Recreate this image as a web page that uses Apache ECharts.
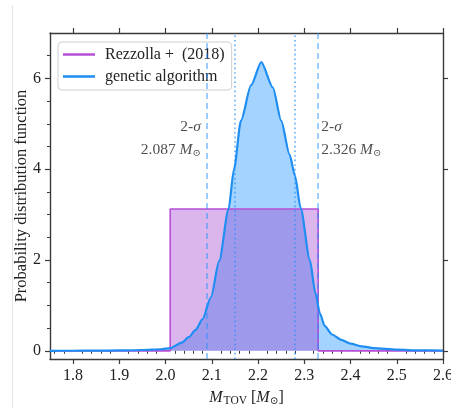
<!DOCTYPE html>
<html>
<head>
<meta charset="utf-8">
<script src="https://cdn.jsdelivr.net/npm/echarts@6/dist/echarts.min.js"></script>
<style>
  html, body { margin: 0; padding: 0; background: #fff; }
  #chart { width: 451px; height: 408px; }
</style>
</head>
<body>
<div id="chart"></div>
<script>
// Genetic-algorithm posterior for the maximum TOV mass
const gaMass = [1.75, 1.80, 1.85, 1.90, 1.95, 1.99, 2.01, 2.035, 2.05, 2.065, 2.08, 2.098, 2.116, 2.136, 2.148, 2.163, 2.185, 2.207, 2.232, 2.250, 2.268, 2.280, 2.292, 2.312, 2.324, 2.334, 2.344, 2.36, 2.38, 2.40, 2.424, 2.45, 2.50, 2.55, 2.60];
const gaPdf  = [0.0, 0.002, 0.004, 0.008, 0.018, 0.035, 0.06, 0.18, 0.3, 0.46, 0.7, 1.18, 1.98, 3.11, 4.0, 5.07, 5.85, 6.36, 5.80, 5.07, 4.33, 3.85, 3.15, 2.0, 1.27, 0.82, 0.55, 0.36, 0.24, 0.16, 0.1, 0.06, 0.025, 0.01, 0.004];

// Rezzolla et al. (2018): uniform bound on M_TOV
const rezMass = [1.75, 2.01, 2.01, 2.33, 2.33, 2.60];
const rezPdf  = [0.0, 0.0, 3.125, 3.125, 0.0, 0.0];

// Credible-interval bounds
const twoSigma = [2.087, 2.326];
const oneSigma = [2.152, 2.277];
const sigmaLabelY = 4.67;

// Tick positions
const xMajor = [1.8, 1.9, 2.0, 2.1, 2.2, 2.3, 2.4, 2.5, 2.6];
const xMinor = [1.76, 1.78, 1.82, 1.84, 1.86, 1.88, 1.92, 1.94, 1.96, 1.98, 2.02, 2.04, 2.06, 2.08, 2.12, 2.14, 2.16, 2.18, 2.22, 2.24, 2.26, 2.28, 2.32, 2.34, 2.36, 2.38, 2.42, 2.44, 2.46, 2.48, 2.52, 2.54, 2.56, 2.58];
const yMajor = [0, 2, 4, 6];
const yMinor = [0.5, 1, 1.5, 2.5, 3, 3.5, 4.5, 5, 5.5, 6.5];

const SERIF = '"Liberation Serif", "DejaVu Serif", serif';
const AX = '#3a3a3a';
const TXT = '#222';
const X_MIN = 1.75, X_MAX = 2.6, Y_MIN = -0.18, Y_MAX = 7.0;

const zip = (a, b) => a.map((v, i) => [v, b[i]]);

function xAxisDef(extra) {
  return Object.assign({
    type: 'value', min: X_MIN, max: X_MAX, gridIndex: 0,
    splitLine: { show: false },
    axisLine: { show: false },
    axisLabel: { show: false },
    axisTick: { show: false }
  }, extra);
}
function yAxisDef(extra) {
  return Object.assign({
    type: 'value', min: Y_MIN, max: Y_MAX, gridIndex: 0,
    splitLine: { show: false },
    axisLine: { show: false },
    axisLabel: { show: false },
    axisTick: { show: false }
  }, extra);
}

const massRich = {
  n: { fontFamily: SERIF, fontSize: 15.5, color: TXT },
  i: { fontFamily: SERIF, fontSize: 15.5, fontStyle: 'italic', color: TXT },
  s: { fontFamily: '"DejaVu Serif", serif', fontSize: 10, color: TXT, padding: [6, 0, 0, 0] }
};

const chart = echarts.init(document.getElementById('chart'), null, { renderer: 'canvas' });

chart.setOption({
  animation: false,
  backgroundColor: '#fff',
  grid: { left: 50, right: 8, top: 33, bottom: 49, containLabel: false, outerBoundsMode: 'none' },
  graphic: [{
    type: 'line', silent: true,
    shape: { x1: 12.5, y1: 5, x2: 12.5, y2: 408 },
    style: { stroke: '#e4e4e4', lineWidth: 1 }
  }],
  legend: {
    left: 58, top: 42, orient: 'vertical',
    backgroundColor: '#fff',
    borderColor: '#cfcfcf', borderWidth: 1, borderRadius: 4,
    padding: [4, 7, 5, 5],
    itemGap: 5, itemWidth: 32, itemHeight: 2.5,
    textStyle: { fontFamily: SERIF, fontSize: 16, lineHeight: 17, color: TXT, padding: [0, 0, 0, 5] },
    formatter: name => name.replace(' + ', ' +  '),
    data: [
      { name: 'Rezzolla + (2018)', icon: 'rect', itemStyle: { color: '#b64fd6' } },
      { name: 'genetic algorithm', icon: 'rect', itemStyle: { color: '#1e8ef2' } }
    ]
  },
  xAxis: [
    xAxisDef({
      position: 'bottom',
      axisLine: { show: true, onZero: false, lineStyle: { color: AX, width: 1.4 } },
      axisTick: { show: true, customValues: xMajor, length: 5, lineStyle: { color: AX, width: 1.2 } },
      axisLabel: {
        show: true, customValues: xMajor, margin: 9,
        formatter: v => v.toFixed(1),
        fontFamily: SERIF, fontSize: 16, color: TXT
      },
      name: '{i|M}{sub|TOV} [{i|M}{sun|⊙}]',
      nameLocation: 'middle', nameGap: 29, nameMoveOverlap: false,
      nameTextStyle: {
        fontFamily: SERIF, fontSize: 16, color: TXT,
        rich: {
          i: { fontFamily: SERIF, fontSize: 16, fontStyle: 'italic', color: TXT },
          sub: { fontFamily: SERIF, fontSize: 11.5, color: TXT, padding: [7, 0, 0, 1] },
          sun: { fontFamily: '"DejaVu Serif", serif', fontSize: 10.5, color: TXT, padding: [7, 0, 0, 0] }
        }
      }
    }),
    xAxisDef({
      position: 'bottom',
      axisTick: { show: true, customValues: xMinor, length: 3, lineStyle: { color: AX, width: 1 } }
    }),
    xAxisDef({
      position: 'top',
      axisLine: { show: true, onZero: false, lineStyle: { color: AX, width: 1.4 } },
      axisTick: { show: true, customValues: xMajor, length: 5, lineStyle: { color: AX, width: 1.2 } }
    })
  ],
  yAxis: [
    yAxisDef({
      position: 'left',
      axisLine: { show: true, onZero: false, lineStyle: { color: AX, width: 1.4 } },
      axisTick: { show: true, customValues: yMajor, length: 5, lineStyle: { color: AX, width: 1.2 } },
      axisLabel: {
        show: true, customValues: yMajor, margin: 9,
        fontFamily: SERIF, fontSize: 16, color: TXT
      },
      name: 'Probability distribution function',
      nameLocation: 'middle', nameGap: 20, nameMoveOverlap: false,
      nameTextStyle: { fontFamily: SERIF, fontSize: 16.5, color: TXT }
    }),
    yAxisDef({
      position: 'left',
      axisTick: { show: true, customValues: yMinor, length: 3, lineStyle: { color: AX, width: 1 } }
    }),
    yAxisDef({
      position: 'right',
      axisLine: { show: true, onZero: false, lineStyle: { color: AX, width: 1.4 } },
      axisTick: { show: true, customValues: yMajor, length: 5, lineStyle: { color: AX, width: 1.2 } }
    })
  ],
  series: [
    {
      // filled area under the genetic-algorithm posterior
      name: 'gaFill', type: 'line', xAxisIndex: 0, yAxisIndex: 0,
      data: zip(gaMass, gaPdf),
      showSymbol: false, smooth: 0.25, smoothMonotone: 'x',
      lineStyle: { width: 0, opacity: 0 },
      areaStyle: { color: 'rgba(30,144,255,0.40)', opacity: 1 },
      silent: true, z: 1
    },
    {
      name: 'Rezzolla + (2018)', type: 'line', xAxisIndex: 0, yAxisIndex: 0,
      data: zip(rezMass, rezPdf),
      showSymbol: false,
      itemStyle: { color: '#b64fd6' },
      lineStyle: { color: '#b64fd6', width: 1.6 },
      areaStyle: { color: 'rgba(150,45,200,0.35)', opacity: 1 },
      z: 2
    },
    {
      name: 'genetic algorithm', type: 'line', xAxisIndex: 0, yAxisIndex: 0,
      data: zip(gaMass, gaPdf),
      showSymbol: false, smooth: 0.25, smoothMonotone: 'x',
      itemStyle: { color: '#1e8ef2' },
      lineStyle: { color: '#1e8ef2', width: 2.2 },
      z: 4,
      markLine: {
        silent: true, symbol: 'none', label: { show: false },
        data: [
          ...twoSigma.map(v => ({ xAxis: v, lineStyle: { color: 'rgba(30,144,255,0.55)', width: 1.6, type: [6, 4] } })),
          ...oneSigma.map(v => ({ xAxis: v, lineStyle: { color: 'rgba(30,144,255,0.65)', width: 1.8, type: [1.6, 3] } }))
        ]
      }
    },
    {
      // 2-sigma bound annotations
      name: 'sigmaText', type: 'scatter', xAxisIndex: 0, yAxisIndex: 0,
      symbolSize: 0, silent: true, z: 5,
      data: twoSigma.map((v, i) => ({
        value: [v, sigmaLabelY],
        label: {
          show: true,
          position: i === 0 ? 'left' : 'right',
          distance: 5,
          align: i === 0 ? 'right' : 'left',
          lineHeight: 23,
          formatter: '{n|2-}{i|σ}\n{n|' + v.toFixed(3) + ' }{i|M}{s|⊙}',
          rich: massRich
        }
      }))
    }
  ]
});
</script>
</body>
</html>
